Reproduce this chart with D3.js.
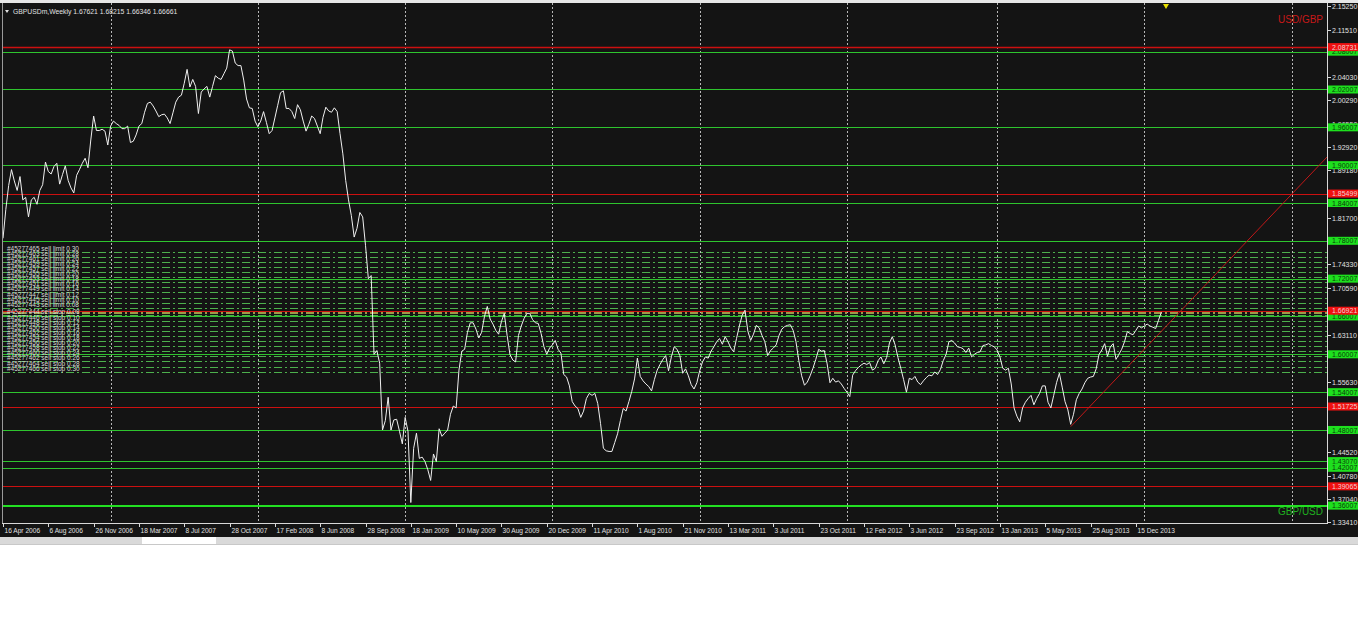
<!DOCTYPE html>
<html><head><meta charset="utf-8">
<script src="https://cdn.jsdelivr.net/npm/d3@7"></script>
<style>
html,body{margin:0;padding:0;background:#fff;}
svg{display:block;}
text{font-family:"Liberation Sans",Arial,sans-serif;}
</style></head>
<body><svg id="c" width="1358" height="644"></svg>
<script>
// ---------------- DATA ----------------
const symbolTitle = "GBPUSDm,Weekly  1.67621 1.68215 1.66346 1.66661";
const firstWeek = "2006-04-16";
const closes = [
1.784,1.830,1.868,1.893,1.875,1.860,1.882,1.845,1.849,1.818,
1.845,1.849,1.838,1.860,1.869,1.905,1.890,1.886,1.898,1.903,
1.870,1.885,1.899,1.876,1.864,1.856,1.884,1.893,1.903,1.911,
1.896,1.940,1.978,1.955,1.955,1.957,1.954,1.932,1.962,1.970,
1.966,1.963,1.958,1.958,1.962,1.936,1.938,1.948,1.962,1.966,
1.984,1.998,2.000,1.994,1.986,1.977,1.980,1.981,1.975,1.966,
1.983,2.000,2.008,2.011,2.030,2.052,2.024,2.036,2.025,1.982,
2.016,2.021,2.025,2.008,2.025,2.042,2.038,2.036,2.045,2.054,
2.083,2.081,2.062,2.058,2.058,2.035,2.005,1.991,1.990,1.970,
1.961,1.970,1.985,1.968,1.950,1.955,1.975,1.995,2.015,2.018,
1.990,1.990,1.985,1.974,1.996,1.988,1.970,1.954,1.965,1.978,
1.974,1.962,1.950,1.976,1.992,1.986,1.984,1.991,1.985,1.950,
1.918,1.876,1.845,1.820,1.786,1.800,1.825,1.818,1.773,1.720,
1.725,1.600,1.606,1.586,1.480,1.495,1.532,1.480,1.496,1.497,
1.478,1.458,1.500,1.478,1.365,1.451,1.475,1.435,1.437,1.430,
1.417,1.400,1.442,1.430,1.482,1.470,1.475,1.480,1.505,1.518,
1.515,1.575,1.605,1.608,1.635,1.650,1.650,1.640,1.626,1.635,
1.660,1.676,1.656,1.648,1.638,1.632,1.652,1.665,1.630,1.600,
1.591,1.588,1.630,1.645,1.657,1.665,1.665,1.655,1.650,1.649,
1.633,1.612,1.600,1.610,1.615,1.622,1.608,1.602,1.568,1.564,
1.550,1.525,1.518,1.514,1.500,1.510,1.530,1.538,1.535,1.538,
1.522,1.490,1.451,1.447,1.446,1.446,1.460,1.474,1.495,1.514,
1.510,1.525,1.541,1.561,1.594,1.565,1.558,1.553,1.549,1.542,
1.560,1.575,1.584,1.592,1.598,1.574,1.596,1.612,1.608,1.598,
1.570,1.577,1.566,1.552,1.545,1.555,1.574,1.588,1.596,1.594,
1.605,1.612,1.620,1.625,1.616,1.628,1.620,1.610,1.604,1.625,
1.645,1.662,1.670,1.637,1.622,1.632,1.646,1.642,1.630,1.620,
1.598,1.606,1.610,1.615,1.630,1.640,1.644,1.646,1.647,1.638,
1.620,1.590,1.566,1.551,1.556,1.566,1.578,1.592,1.608,1.605,
1.606,1.585,1.555,1.562,1.556,1.558,1.553,1.546,1.540,1.533,
1.567,1.574,1.579,1.583,1.586,1.584,1.587,1.575,1.578,1.590,
1.596,1.585,1.595,1.618,1.628,1.615,1.595,1.578,1.560,1.540,
1.562,1.560,1.565,1.556,1.552,1.558,1.563,1.567,1.566,1.572,
1.568,1.576,1.590,1.600,1.620,1.622,1.618,1.612,1.611,1.609,
1.603,1.610,1.596,1.600,1.603,1.604,1.614,1.615,1.617,1.614,
1.612,1.607,1.596,1.578,1.575,1.578,1.553,1.515,1.502,1.493,
1.515,1.524,1.530,1.535,1.520,1.530,1.538,1.550,1.550,1.524,
1.515,1.535,1.555,1.570,1.548,1.525,1.512,1.489,1.505,1.528,
1.538,1.545,1.555,1.562,1.564,1.565,1.577,1.600,1.607,1.617,
1.597,1.612,1.617,1.592,1.600,1.608,1.620,1.636,1.633,1.631,
1.638,1.645,1.642,1.645,1.648,1.645,1.643,1.641,1.654,1.667
];
const redLevels   = [2.08731, 1.85499, 1.66921, 1.51725, 1.39065];
const greenLevels = [2.08007, 2.02007, 1.96007, 1.90007, 1.84007, 1.78007, 1.72007,
                     1.66007, 1.60007, 1.54007, 1.48007, 1.43070, 1.42007];
const baseLevel   = 1.36007;
const askLevel    = 1.6668;
const limitTickets = ["45277465","45277463","45277461","45277459","45277457","45277455",
                      "45277453","45277451","45277449","45277447","45277445","45277443"];
const limitLots    = ["0.30","0.28","0.26","0.24","0.22","0.20","0.18","0.16","0.14","0.12","0.10","0.08"];
const limitPrices  = [1.7630,1.7549,1.7468,1.7387,1.7306,1.7225,1.7144,1.7063,1.6982,1.6901,1.6820,1.6739];
const stopTickets  = ["45277444","45277446","45277448","45277450","45277452","45277454",
                      "45277456","45277458","45277460","45277462","45277464","45277466"];
const stopLots     = ["0.08","0.10","0.12","0.14","0.16","0.18","0.20","0.22","0.24","0.26","0.28","0.30"];
const stopPrices   = [1.6617,1.6536,1.6455,1.6374,1.6293,1.6212,1.6131,1.6050,1.5969,1.5888,1.5807,1.5726];
const trendDates   = ["2013-07-07","2014-02-16"];
const trendPrices  = [1.4853, 1.6365];
const yTickLabels  = ["2.15250","2.11510","2.04030","2.00290","1.96550","1.92920","1.89180",
                      "1.81700","1.74330","1.70590","1.63110","1.55630","1.44520","1.40780",
                      "1.37040","1.33410"];
const xTickLabels  = ["16 Apr 2006","6 Aug 2006","26 Nov 2006","18 Mar 2007","8 Jul 2007",
  "28 Oct 2007","17 Feb 2008","8 Jun 2008","28 Sep 2008","18 Jan 2009","10 May 2009",
  "30 Aug 2009","20 Dec 2009","11 Apr 2010","1 Aug 2010","21 Nov 2010","13 Mar 2011",
  "3 Jul 2011","23 Oct 2011","12 Feb 2012","3 Jun 2012","23 Sep 2012","13 Jan 2013",
  "5 May 2013","25 Aug 2013","15 Dec 2013"];
const yearGridDates = ["2007-01-07","2008-01-06","2009-01-04","2010-01-03","2011-01-02",
                       "2012-01-01","2013-01-06","2014-01-05","2015-01-04"];
const weeksVisible = 467.5;

// ---------------- LAYOUT ----------------
const W = 1358, H = 644;
const L = 2, R = 1327, T = 6, B = 522, AXIS_Y = 523, DARK_BOTTOM = 537;
const BG = "#141414";

const svg = d3.select("#c");
const parseISO = d3.timeParse("%Y-%m-%d");
const parseLbl = d3.timeParse("%d %b %Y");
const t0 = parseISO(firstWeek);
const dates = closes.map((_, i) => d3.timeDay.offset(t0, 7 * i));

const x = d3.scaleTime()
  .domain([t0, d3.timeHour.offset(t0, Math.round(weeksVisible * 7 * 24))])
  .range([3, R]);
const y = d3.scaleLinear().domain([1.33410, 2.15250]).range([B, T]);

// backgrounds
svg.append("rect").attr("x",0).attr("y",0).attr("width",W).attr("height",H).attr("fill","#ffffff");
svg.append("rect").attr("x",0).attr("y",0).attr("width",W).attr("height",3).attr("fill","#e6e6e6");
svg.append("rect").attr("x",0).attr("y",3).attr("width",W).attr("height",DARK_BOTTOM-3).attr("fill",BG);
// bottom tab strip
svg.append("rect").attr("x",0).attr("y",DARK_BOTTOM).attr("width",W).attr("height",7).attr("fill","#d9d9d9");
svg.append("rect").attr("x",142).attr("y",DARK_BOTTOM).attr("width",74).attr("height",7).attr("fill","#ffffff");
svg.append("line").attr("x1",0).attr("x2",W).attr("y1",DARK_BOTTOM+7.5).attr("y2",DARK_BOTTOM+7.5).attr("stroke","#c8c8c8");

const plot = svg.append("g");
plot.append("defs").append("clipPath").attr("id","clip")
  .append("rect").attr("x",L).attr("y",3).attr("width",R-L).attr("height",AXIS_Y-3);

// vertical year grid
plot.selectAll("line.vg").data(yearGridDates).join("line")
  .attr("class","vg")
  .attr("x1", d => Math.round(x(parseISO(d))) + 0.5).attr("x2", d => Math.round(x(parseISO(d))) + 0.5)
  .attr("y1", 3).attr("y2", AXIS_Y)
  .attr("stroke","#b8b8b8").attr("stroke-dasharray","2,2").attr("stroke-width",1);

// order (pending) lines
const orders = limitPrices.map((p,i)=>({p, t:limitTickets[i], kind:"sell limit", lot:limitLots[i]}))
  .concat(stopPrices.map((p,i)=>({p, t:stopTickets[i], kind:"sell stop", lot:stopLots[i]})));
const og = plot.append("g").attr("clip-path","url(#clip)");
og.selectAll("line").data(orders).join("line")
  .attr("x1", L).attr("x2", R)
  .attr("y1", d => Math.round(y(d.p)) + 0.5).attr("y2", d => Math.round(y(d.p)) + 0.5)
  .attr("stroke","#4cb04c").attr("stroke-width",1).attr("stroke-dasharray","8,3,2,3");
og.append("line").attr("x1",L).attr("x2",R)
  .attr("y1", Math.round(y(askLevel)) + 1).attr("y2", Math.round(y(askLevel)) + 1)
  .attr("stroke","#9c9a48").attr("stroke-width",2).attr("stroke-dasharray","8,3,2,3");

// horizontal level lines
const hg = plot.append("g").attr("clip-path","url(#clip)");
hg.selectAll("line.g").data(greenLevels).join("line").attr("class","g")
  .attr("x1",L).attr("x2",R)
  .attr("y1", d => Math.round(y(d)) + 0.5).attr("y2", d => Math.round(y(d)) + 0.5)
  .attr("stroke","#2ec42e").attr("stroke-width",1);
hg.append("line").attr("x1",L).attr("x2",R)
  .attr("y1", Math.round(y(baseLevel))).attr("y2", Math.round(y(baseLevel)))
  .attr("stroke","#22e022").attr("stroke-width",2);
hg.selectAll("line.r").data(redLevels).join("line").attr("class","r")
  .attr("x1",L).attr("x2",R)
  .attr("y1", d => Math.round(y(d)) + 0.5).attr("y2", d => Math.round(y(d)) + 0.5)
  .attr("stroke","#cc1010").attr("stroke-width", (d,i)=> i===0 ? 1.6 : 1.2);

// trend line (ray to the right edge)
const tA = [x(parseISO(trendDates[0])), y(trendPrices[0])];
const tB = [x(parseISO(trendDates[1])), y(trendPrices[1])];
const slope = (tB[1]-tA[1])/(tB[0]-tA[0]);
hg.append("line").attr("x1",tA[0]).attr("y1",tA[1])
  .attr("x2",R).attr("y2",tA[1] + slope*(R - tA[0]))
  .attr("stroke","#c01818").attr("stroke-width",1);

// price line
plot.append("path").datum(closes)
  .attr("clip-path","url(#clip)")
  .attr("fill","none").attr("stroke","#f0f0f0").attr("stroke-width",1)
  .attr("d", d3.line().x((d,i)=>x(dates[i])).y(d=>y(d)));

// order labels
plot.selectAll("text.ol").data(orders).join("text").attr("class","ol")
  .attr("x",7).attr("y", d => Math.round(y(d.p)) - 1)
  .attr("font-size","6.5px").attr("fill","#d8d8d8")
  .text(d => `#${d.t} ${d.kind} ${d.lot}`);

// frame
svg.append("line").attr("x1",L+0.5).attr("x2",L+0.5).attr("y1",3).attr("y2",AXIS_Y).attr("stroke","#9a9a9a");
svg.append("line").attr("x1",L).attr("x2",R+1).attr("y1",AXIS_Y+0.5).attr("y2",AXIS_Y+0.5).attr("stroke","#d8d8d8");
svg.append("line").attr("x1",R+0.5).attr("x2",R+0.5).attr("y1",3).attr("y2",AXIS_Y+1).attr("stroke","#d8d8d8");

// x axis
const xt = svg.append("g");
xTickLabels.forEach(s => {
  const px = Math.round(x(parseLbl(s))) + 0.5;
  xt.append("line").attr("x1",px).attr("x2",px).attr("y1",AXIS_Y).attr("y2",AXIS_Y+4).attr("stroke","#d8d8d8");
  xt.append("text").attr("x",px+1).attr("y",533).attr("font-size","6.6px").attr("fill","#e0e0e0").text(s);
});

// y axis ticks
const yt = svg.append("g");
yTickLabels.forEach(s => {
  const py = Math.round(y(+s)) + 0.5;
  yt.append("line").attr("x1",R+1).attr("x2",R+4).attr("y1",py).attr("y2",py).attr("stroke","#d8d8d8");
  yt.append("text").attr("x",R+5).attr("y",py+2.6).attr("font-size","7px").attr("fill","#e0e0e0").text(s);
});

// level price boxes
function box(v, fill, txt) {
  const py = y(v);
  yt.append("rect").attr("x",R+1).attr("y",py-4).attr("width",W-R-1).attr("height",8).attr("fill",fill);
  yt.append("text").attr("x",R+5).attr("y",py+2.6).attr("font-size","7px").attr("fill",txt)
    .text(v.toFixed(5));
}
greenLevels.concat([baseLevel]).forEach(v => box(v, "#1ee01e", "#0a3a0a"));
redLevels.forEach(v => box(v, "#f01010", "#f0d0d0"));

// corner captions
svg.append("text").attr("x",1278).attr("y",23).attr("font-size","10px").attr("fill","#c81818").text("USD/GBP");
svg.append("text").attr("x",1278).attr("y",515).attr("font-size","10px").attr("fill","#1fb01f").text("GBP/USD");

// header
svg.append("path").attr("d","M5,10 L9,10 L7,13 Z").attr("fill","#e0e0e0");
svg.append("text").attr("x",13).attr("y",14).attr("font-size","6.8px").attr("fill","#e0e0e0").text(symbolTitle);

// chart shift marker
svg.append("path").attr("d","M1163,4 L1169,4 L1166,9 Z").attr("fill","#e8e000");
</script></body></html>
